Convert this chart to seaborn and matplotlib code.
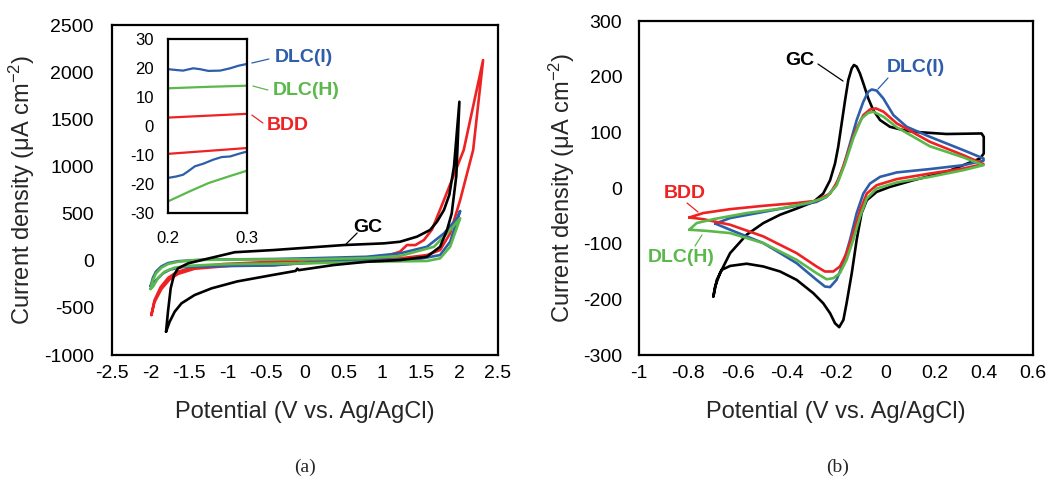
import matplotlib
matplotlib.use("Agg")
import matplotlib.pyplot as plt
import seaborn as sns
import pandas as pd

# ---------------- data: panel (a) wide potential window ----------------
gc_a_x = [-1.80, -1.753, -1.688, -1.60, -1.43, -1.21, -0.88, -0.41, -0.12, -0.10, -0.08, 0.37, 0.80, 1.23, 1.58,
          1.75, 1.84, 1.90, 1.96, 2.00,
          1.93, 1.87, 1.80, 1.71, 1.62, 1.45, 1.23, 1.02, 0.50, 0.02, -0.41, -0.91, -1.30, -1.515, -1.645,
          -1.697, -1.74, -1.775, -1.80]
gc_a_y = [-753, -647, -541, -452, -364, -293, -220, -150, -108, -85, -100, -46, -11, 7, 42,
          148, 326, 500, 900, 1686,
          1000, 700, 538, 414, 326, 255, 201, 184, 166, 138, 113, 90, 14, -28, -81,
          -152, -293, -541, -753]

bdd_a_x = [-1.99, -1.95, -1.87, -1.77, -1.66, -1.45, -1.06, -0.41, 0.02, 0.37, 0.80, 1.02, 1.23, 1.32, 1.43,
           1.54, 1.645, 1.80, 2.056, 2.307,
           2.178, 2.01, 1.88, 1.75, 1.58, 1.23, 0.80, 0.37, 0.02, -0.41, -0.91, -1.43, -1.645, -1.75, -1.86,
           -1.95, -1.99]
bdd_a_y = [-576, -420, -280, -180, -120, -70, -35, -11, 5, 12, 25, 42, 95, 166, 166,
           219, 330, 644, 1174, 2128,
           1174, 644, 290, 113, 60, 25, 7, -11, -25, -46, -50, -85, -140, -195, -300,
           -440, -576]

dlci_a_x = [-2.00, -1.97, -1.93, -1.86, -1.775, -1.645, -1.28, -0.41, 0.02, 0.80, 1.23, 1.58, 1.80, 1.97, 2.01,
            1.88, 1.75, 1.45, 0.80, 0.02, -0.41, -1.28, -1.60, -1.75, -1.84, -1.95, -2.00]
dlci_a_y = [-270, -180, -115, -60, -25, -5, 12, 18, 25, 42, 78, 148, 290, 450, 527,
            202, 60, 14, 7, -20, -50, -60, -68, -95, -134, -223, -270]

dlch_a_x = [-2.00, -1.97, -1.93, -1.86, -1.775, -1.645, -1.43, -0.91, 0.02, 0.80, 1.23, 1.67, 1.88, 1.99, 2.01,
            1.88, 1.75, 1.58, 0.80, 0.02, -0.91, -1.21, -1.515, -1.69, -1.82, -1.905, -1.97, -2.00]
dlch_a_y = [-300, -205, -134, -74, -35, -11, 7, 14, 14, 28, 50, 148, 326, 432, 450,
            148, 25, -3, -11, -28, -35, -42, -55, -74, -117, -187, -276, -300]

# ---------------- data: inset of panel (a), 0.2-0.3 V ----------------
ins_dlci_up_x = [0.200, 0.2106, 0.2191, 0.2319, 0.2404, 0.2511, 0.266, 0.2787, 0.2894, 0.300]
ins_dlci_up_y = [19.6, 19.3, 19.1, 19.9, 19.6, 19.0, 19.1, 19.9, 20.8, 21.4]
ins_dlci_lo_x = [0.200, 0.2106, 0.2191, 0.2255, 0.2340, 0.2447, 0.2574, 0.2681, 0.2787, 0.2894, 0.300]
ins_dlci_lo_y = [-17.9, -17.4, -16.8, -15.6, -13.9, -13.0, -11.6, -10.7, -10.5, -9.6, -8.8]
ins_dlch_up_x = [0.200, 0.250, 0.300]
ins_dlch_up_y = [13.0, 13.5, 13.9]
ins_dlch_lo_x = [0.200, 0.2277, 0.2511, 0.2745, 0.300]
ins_dlch_lo_y = [-26.0, -22.5, -19.7, -17.6, -15.4]
ins_bdd_up_x = [0.200, 0.300]
ins_bdd_up_y = [2.9, 4.2]
ins_bdd_lo_x = [0.200, 0.300]
ins_bdd_lo_y = [-9.6, -7.6]

# ---------------- data: panel (b) ferricyanide CVs ----------------
gc_b_x = [-0.698, -0.691, -0.671, -0.63, -0.563, -0.495, -0.427, -0.36, -0.292, -0.252, -0.224, -0.204, -0.191,
          -0.177, -0.163, -0.15, -0.136, -0.127, -0.116, -0.103, -0.089, -0.069, -0.049, -0.021, 0.019, 0.073,
          0.114, 0.249, 0.391, 0.40, 0.40, 0.385, 0.249, 0.114, 0.019, -0.035, -0.075, -0.096, -0.116, -0.136,
          -0.157, -0.17, -0.187, -0.204, -0.224, -0.252, -0.292, -0.36, -0.427, -0.495, -0.563, -0.63, -0.664,
          -0.684, -0.698]
gc_b_y = [-195, -177, -153, -117, -84, -63, -48, -37, -25, -10, 14, 44, 74,
          116, 158, 194, 215, 221, 218, 206, 188, 161, 140, 122, 110, 104,
          101, 97, 98, 92, 62, 53, 29, 14, 2, -7, -22, -45, -93, -153,
          -207, -237, -250, -243, -225, -207, -189, -165, -150, -141, -136, -140, -147,
          -165, -195]

dlci_b_x = [-0.69, -0.63, -0.495, -0.36, -0.28, -0.238, -0.204, -0.17, -0.143, -0.116, -0.089, -0.069, -0.055,
            -0.035, -0.008, 0.033, 0.087, 0.181, 0.317, 0.399, 0.399, 0.317, 0.181, 0.047, -0.021, -0.062,
            -0.089, -0.116, -0.143, -0.17, -0.198, -0.224, -0.245, -0.279, -0.36, -0.427, -0.495, -0.63, -0.69]
dlci_b_y = [-64, -54, -43, -32, -25, -16, 2, 38, 80, 122, 155, 173, 177,
            175, 161, 131, 110, 92, 68, 53, 49, 41, 34, 28, 20, 8,
            -10, -45, -93, -135, -165, -178, -177, -165, -135, -117, -99, -75, -64]

bdd_b_x = [-0.796, -0.739, -0.63, -0.495, -0.36, -0.28, -0.224, -0.191, -0.157, -0.123, -0.089, -0.062, -0.038,
           -0.007, 0.047, 0.181, 0.317, 0.399, 0.317, 0.181, 0.047, -0.035, -0.075, -0.102, -0.13, -0.157,
           -0.184, -0.211, -0.245, -0.279, -0.36, -0.495, -0.63, -0.739, -0.796]
bdd_b_y = [-53, -45, -38, -32, -27, -23, -10, 14, 56, 101, 131, 141, 143,
           137, 116, 83, 59, 43, 35, 26, 16, 5, -10, -40, -81, -117,
           -141, -150, -150, -141, -117, -87, -66, -56, -53]

dlch_b_x = [-0.796, -0.766, -0.698, -0.563, -0.427, -0.305, -0.238, -0.197, -0.163, -0.13, -0.096, -0.069,
            -0.048, -0.007, 0.047, 0.181, 0.317, 0.399, 0.317, 0.181, 0.047, -0.035, -0.075, -0.102, -0.13,
            -0.157, -0.184, -0.211, -0.238, -0.279, -0.36, -0.495, -0.63, -0.725, -0.796]
dlch_b_y = [-75, -63, -56, -45, -37, -26, -16, 5, 44, 89, 125, 135,
            137, 128, 109, 75, 55, 41, 32, 20, 10, -1, -19, -51, -93,
            -129, -153, -162, -164, -153, -129, -99, -81, -77, -75]

# ticks / labels
a_xticks = [-2.5, -2, -1.5, -1, -0.5, 0, 0.5, 1, 1.5, 2, 2.5]
a_xlabels = ["-2.5", "-2", "-1.5", "-1", "-0.5", "0", "0.5", "1", "1.5", "2", "2.5"]
a_yticks = [-1000, -500, 0, 500, 1000, 1500, 2000, 2500]
ins_yticks = [-30, -20, -10, 0, 10, 20, 30]
ins_xticks = [0.2, 0.3]
ins_xlabels = ["0.2", "0.3"]
b_xticks = [-1, -0.8, -0.6, -0.4, -0.2, 0, 0.2, 0.4, 0.6]
b_xlabels = ["-1", "-0.8", "-0.6", "-0.4", "-0.2", "0", "0.2", "0.4", "0.6"]
b_yticks = [-300, -200, -100, 0, 100, 200, 300]

C_GC = "#000000"
C_BDD = "#ee2222"
C_DLCI = "#2e5eaa"
C_DLCH = "#5ab94a"

sns.set_theme(style="white")
plt.rcParams["font.family"] = ["Liberation Sans", "DejaVu Sans"]
plt.rcParams["mathtext.fontset"] = "custom"
plt.rcParams["mathtext.rm"] = "Liberation Sans"
plt.rcParams["mathtext.it"] = "Liberation Sans:italic"
plt.rcParams["axes.unicode_minus"] = False
plt.rcParams["lines.solid_joinstyle"] = "round"
plt.rcParams["lines.solid_capstyle"] = "round"

W, H = 1049, 480
fig = plt.figure(figsize=(W / 100, H / 100), dpi=100)


def frac(px_l, px_t, px_r, px_b):
    return [px_l / W, 1 - px_b / H, (px_r - px_l) / W, (px_b - px_t) / H]


axA = fig.add_axes(frac(112, 25, 498, 355))
axB = fig.add_axes(frac(639, 21, 1033, 355))
axI = fig.add_axes(frac(168, 39, 247, 213))

LW = 1.9


def draw(ax, xs, ys, color, lw=LW):
    df = pd.DataFrame({"x": xs, "y": ys})
    sns.lineplot(data=df, x="x", y="y", sort=False, estimator=None, color=color,
                 lw=lw, ax=ax, legend=False)


# panel a
draw(axA, bdd_a_x, bdd_a_y, C_BDD)
draw(axA, dlci_a_x, dlci_a_y, C_DLCI)
draw(axA, dlch_a_x, dlch_a_y, C_DLCH)
draw(axA, gc_a_x, gc_a_y, C_GC)

# inset
draw(axI, ins_dlci_up_x, ins_dlci_up_y, C_DLCI, 1.6)
draw(axI, ins_dlci_lo_x, ins_dlci_lo_y, C_DLCI, 1.6)
draw(axI, ins_dlch_up_x, ins_dlch_up_y, C_DLCH, 1.6)
draw(axI, ins_dlch_lo_x, ins_dlch_lo_y, C_DLCH, 1.6)
draw(axI, ins_bdd_up_x, ins_bdd_up_y, C_BDD, 1.6)
draw(axI, ins_bdd_lo_x, ins_bdd_lo_y, C_BDD, 1.6)

# panel b
draw(axB, gc_b_x, gc_b_y, C_GC)
draw(axB, dlci_b_x, dlci_b_y, C_DLCI)
draw(axB, bdd_b_x, bdd_b_y, C_BDD)
draw(axB, dlch_b_x, dlch_b_y, C_DLCH)

ylab = "Current density (μA cm$^{-2}$)"
xlab = "Potential (V vs. Ag/AgCl)"

for ax in (axA, axB, axI):
    for s in ax.spines.values():
        s.set_visible(True)
        s.set_color("black")
        s.set_linewidth(1.6)
    ax.set_facecolor("white")

# axes A
axA.set_xlim(-2.5, 2.5)
axA.set_ylim(-1000, 2500)
axA.set_xticks(a_xticks)
axA.set_xticklabels(a_xlabels)
axA.set_yticks(a_yticks)
axA.set_yticklabels([str(v) for v in a_yticks])
axA.tick_params(axis="both", direction="in", length=5, width=1.5, labelsize=14, color="black", labelcolor="black")
axA.tick_params(axis="y", pad=13)
axA.tick_params(axis="x", pad=7)
axA.set_xlabel(xlab, fontsize=17)
axA.set_ylabel(ylab, fontsize=17)
axA.xaxis.set_label_coords(0.5, (355 - 412) / 330)
axA.xaxis.label.set_verticalalignment("center")
axA.yaxis.set_label_coords((22 - 112) / 386, 0.5)
axA.yaxis.label.set_verticalalignment("center")

# axes B
axB.set_xlim(-1, 0.6)
axB.set_ylim(-300, 300)
axB.set_xticks(b_xticks)
axB.set_xticklabels(b_xlabels)
axB.set_yticks(b_yticks)
axB.set_yticklabels([str(v) for v in b_yticks])
axB.tick_params(axis="both", direction="in", length=5, width=1.5, labelsize=14, color="black", labelcolor="black")
axB.tick_params(axis="y", pad=12)
axB.tick_params(axis="x", pad=7)
axB.set_xlabel(xlab, fontsize=17)
axB.set_ylabel(ylab, fontsize=17)
axB.xaxis.set_label_coords(0.5, (355 - 412) / 334)
axB.xaxis.label.set_verticalalignment("center")
axB.yaxis.set_label_coords((562 - 639) / 394, 0.5)
axB.yaxis.label.set_verticalalignment("center")

# inset
axI.set_xlim(0.2, 0.3)
axI.set_ylim(-30, 30)
axI.set_xticks(ins_xticks)
axI.set_xticklabels(ins_xlabels)
axI.set_yticks(ins_yticks)
axI.set_yticklabels([str(v) for v in ins_yticks])
axI.tick_params(axis="both", direction="in", length=4, width=1.4, labelsize=12, color="black", labelcolor="black")
axI.tick_params(axis="y", pad=10)
axI.tick_params(axis="x", pad=13)
axI.set_xlabel("")
axI.set_ylabel("")


def lab(ax, text, x, y, color, x1, y1, x2, y2):
    ax.text(x, y, text, color=color, fontsize=14, fontweight="bold", ha="center", va="center", zorder=10)
    ax.plot([x1, x2], [y1, y2], color=color, lw=0.9, zorder=10)


def px2a(px, py):
    return (px - 305) / 77.0, (260.7 - py) * 10.606


def px2b(px, py):
    return -1 + (px - 639) / 246.25, (188 - py) * 1.796


def lab_px(ax, conv, text, cx, cy, color, p1, p2):
    x, y = conv(cx, cy)
    x1, y1 = conv(*p1)
    x2, y2 = conv(*p2)
    lab(ax, text, x, y, color, x1, y1, x2, y2)


lab_px(axA, px2a, "GC", 368, 227, C_GC, (345, 245), (357, 233))
lab_px(axA, px2a, "DLC(I)", 304, 57, C_DLCI, (252, 63), (269, 59))
lab_px(axA, px2a, "DLC(H)", 306, 90, C_DLCH, (253, 86), (268, 90))
lab_px(axA, px2a, "BDD", 288, 125, C_BDD, (252, 115), (263, 123))

lab_px(axB, px2b, "GC", 800, 60, C_GC, (818, 64), (843, 81))
lab_px(axB, px2b, "DLC(I)", 916, 67, C_DLCI, (888, 78), (878, 89))
lab_px(axB, px2b, "BDD", 685, 194, C_BDD, (687, 203), (698, 212))
lab_px(axB, px2b, "DLC(H)", 681, 258, C_DLCH, (702, 235), (695, 246))

fig.text(305 / W, 1 - 467 / H, "(a)", fontsize=14, family=["Liberation Serif", "DejaVu Serif"], ha="center", va="center")
fig.text(838 / W, 1 - 467 / H, "(b)", fontsize=14, family=["Liberation Serif", "DejaVu Serif"], ha="center", va="center")

fig.savefig("out.png", dpi=100, facecolor="white")
